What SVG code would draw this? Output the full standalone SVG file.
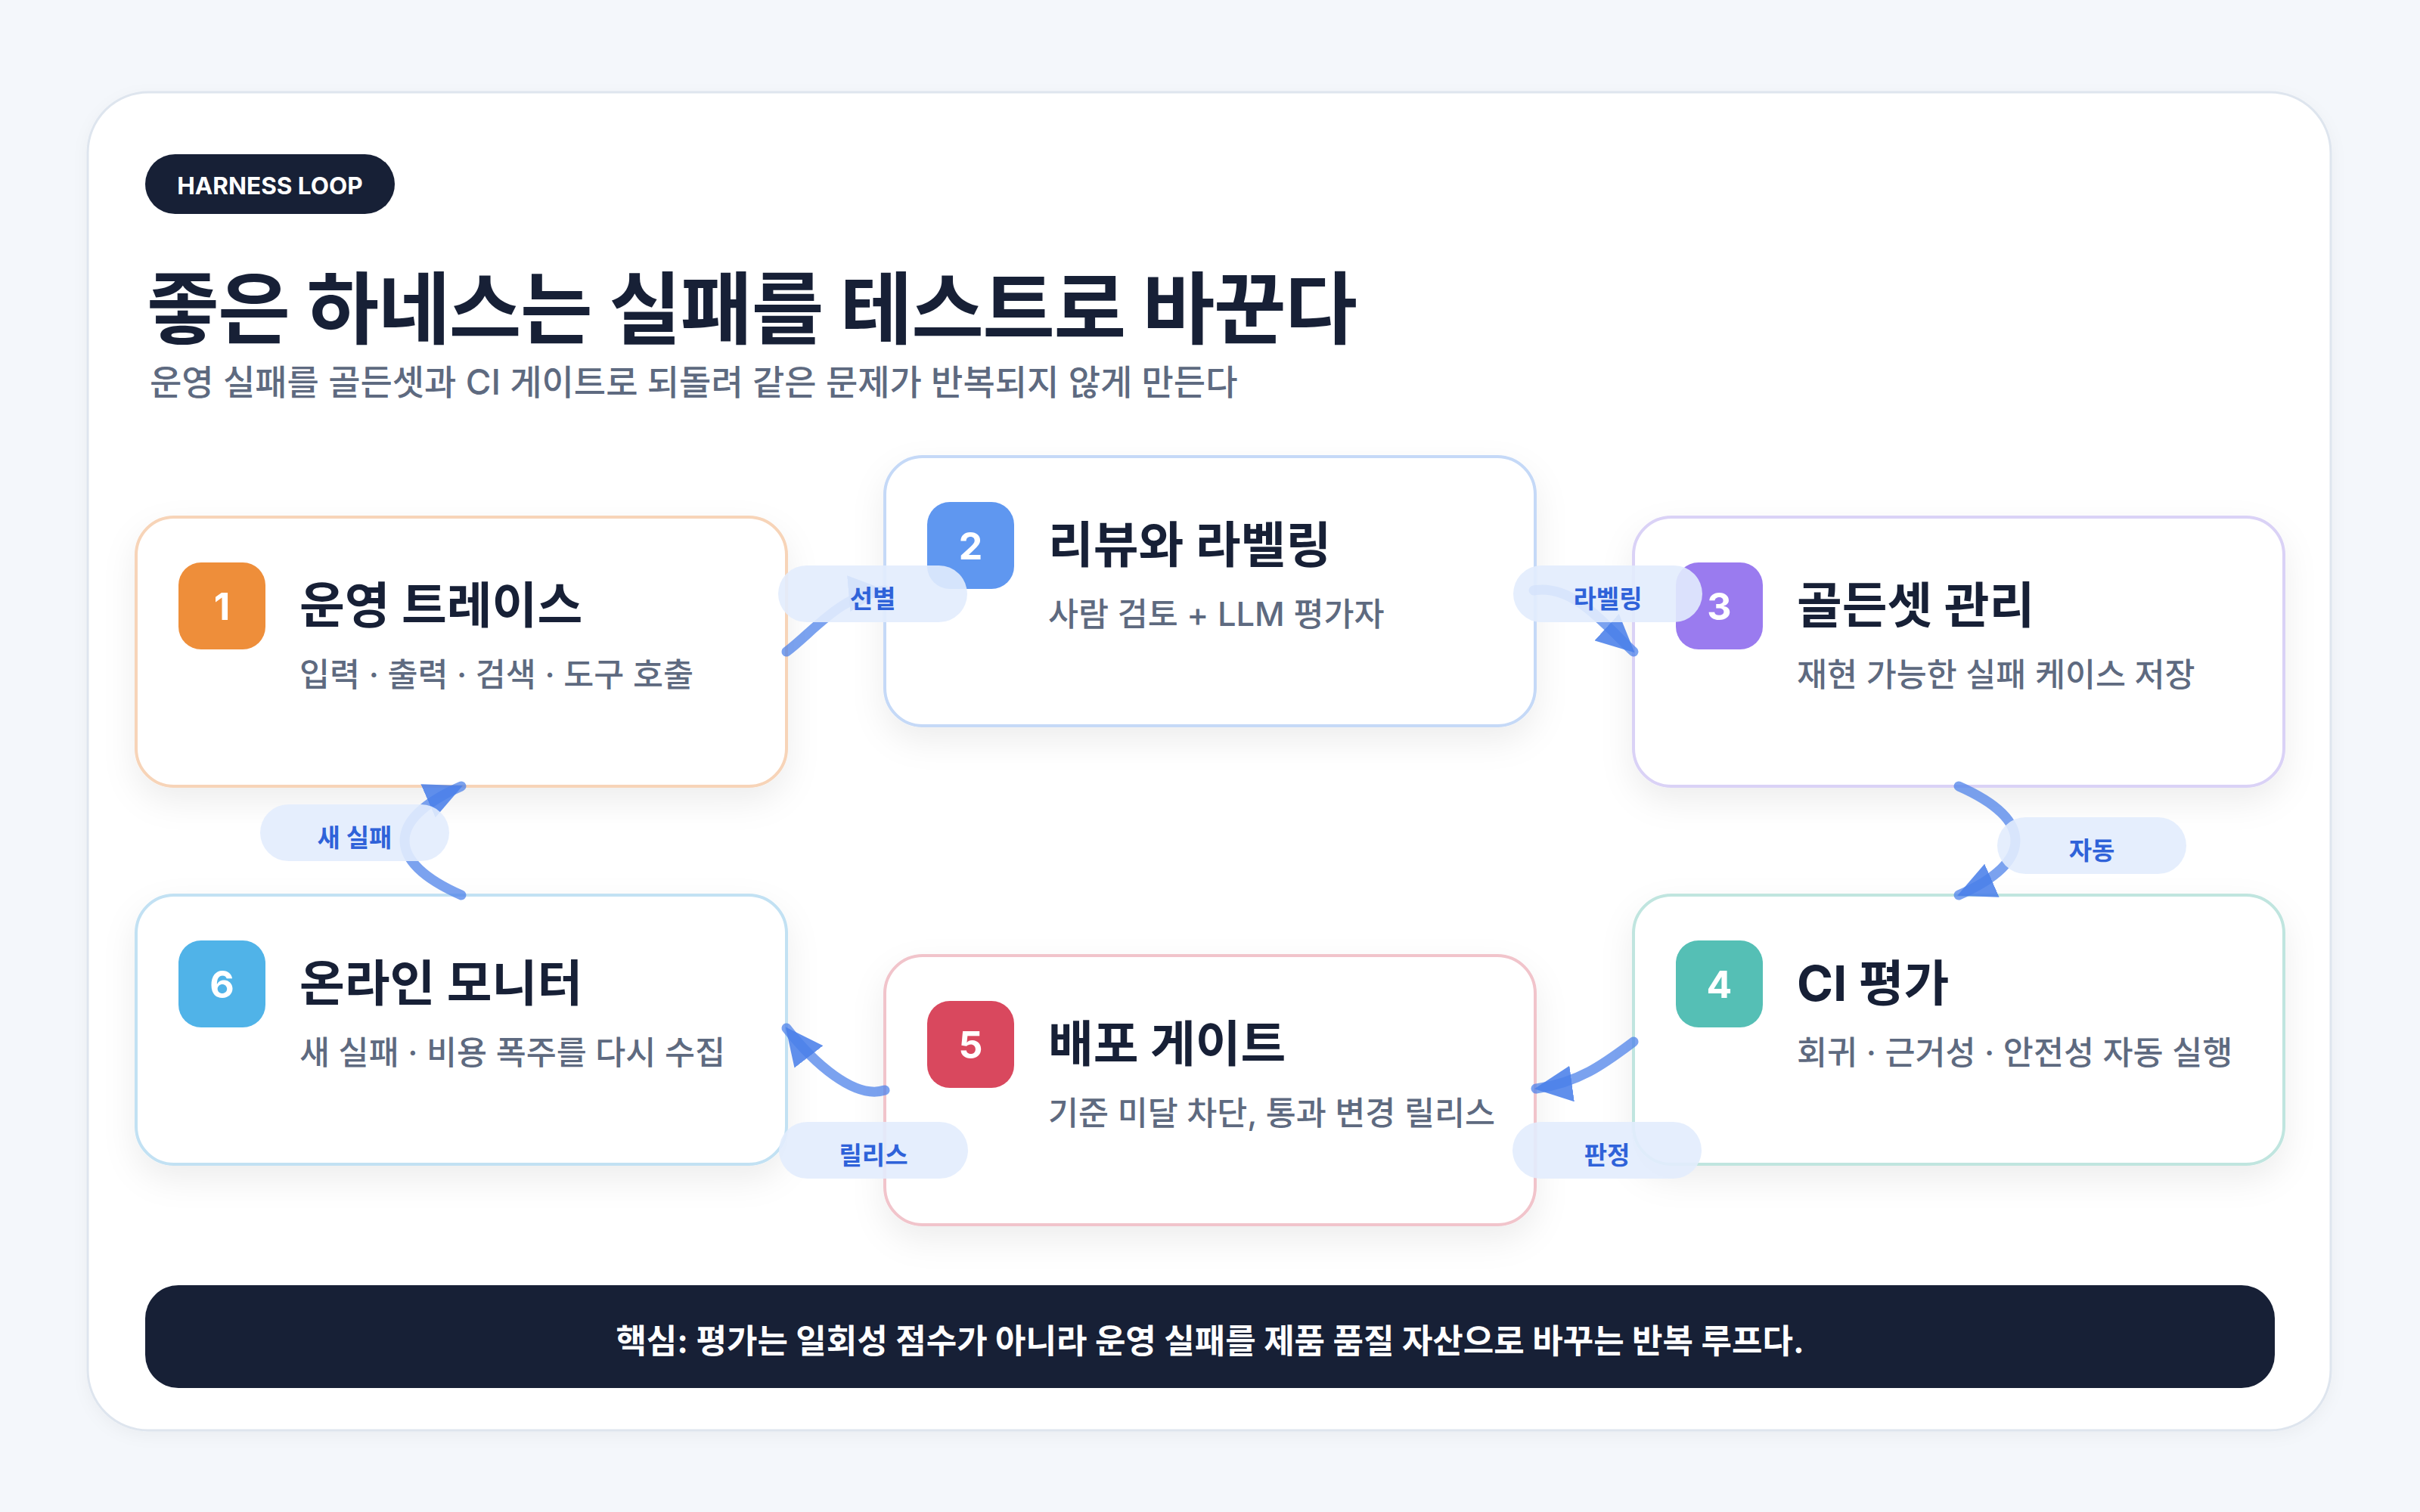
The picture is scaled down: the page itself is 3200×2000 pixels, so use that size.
<svg xmlns="http://www.w3.org/2000/svg" width="3200" height="2000" viewBox="0 0 3200 2000">
<defs>
<style>
.f{font-family:Inter,'Noto Sans CJK KR',sans-serif}
.node{fill:#ffffff;stroke-width:4}
.ttl{font-size:65px;font-weight:700;fill:#172036}
.sub{font-size:43.5px;font-weight:500;fill:#5E6A80}
.num{font-size:50px;font-weight:700;fill:#ffffff;text-anchor:middle}
.pill{fill:#E2ECFD;fill-opacity:0.9}
.plbl{font-size:33px;font-weight:700;fill:#2F62D9;text-anchor:middle}
.edge{fill:none;stroke:#4F83EA;stroke-opacity:0.75;stroke-width:13;stroke-linecap:round;marker-end:url(#arr)}
</style>
<filter id="sh" x="-20%" y="-20%" width="140%" height="160%">
<feDropShadow dx="0" dy="18" stdDeviation="22" flood-color="#0F172A" flood-opacity="0.07"/>
</filter>
<filter id="csh" x="-5%" y="-5%" width="110%" height="110%">
<feDropShadow dx="0" dy="6" stdDeviation="10" flood-color="#0F172A" flood-opacity="0.04"/>
</filter>
<marker id="arr" markerUnits="userSpaceOnUse" markerWidth="50" markerHeight="48" viewBox="0 0 50 48" refX="48" refY="24" orient="auto">
<path d="M0,0 L50,24 L0,48 Z" fill="#4A7FE9" fill-opacity="0.88"/>
</marker>
</defs>
<rect x="0" y="0" width="3200" height="2000" fill="#F4F7FB"/>
<rect x="116" y="122" width="2966" height="1770" rx="80" fill="#ffffff" stroke="#DEE5EE" stroke-width="3" filter="url(#csh)"/>

<g id="header" class="f">
<rect x="192" y="204" width="330" height="79" rx="39.5" fill="#172036"/>
<text x="357" y="257" font-size="31.5" font-weight="700" fill="#ffffff" text-anchor="middle">HARNESS LOOP</text>
<text x="194" y="447" font-size="104" font-weight="700" fill="#172036" letter-spacing="-1.5">좋은 하네스는 실패를 테스트로 바꾼다</text>
<text x="198" y="522" font-size="46" font-weight="500" fill="#5E6A80">운영 실패를 골든셋과 CI 게이트로 되돌려 같은 문제가 반복되지 않게 만든다</text>
</g>

<g id="node1" class="f">
<rect class="node" x="180" y="684" width="860" height="356" rx="50" stroke="#F7D4B8" filter="url(#sh)"/>
<rect x="236" y="744" width="115" height="115" rx="30" fill="#EE8E3A"/>
<text class="num" x="293.5" y="819.5">1</text>
<text class="ttl" x="396" y="824">운영 트레이스</text>
<text class="sub" x="396" y="907.5">입력 · 출력 · 검색 · 도구 호출</text>
</g>

<g id="node2" class="f">
<rect class="node" x="1170" y="604" width="860" height="356" rx="50" stroke="#C5D9F7" filter="url(#sh)"/>
<rect x="1226" y="664" width="115" height="115" rx="30" fill="#5F97F0"/>
<text class="num" x="1283.5" y="739.5">2</text>
<text class="ttl" x="1386" y="744">리뷰와 라벨링</text>
<text class="sub" x="1386" y="827.5">사람 검토 + LLM 평가자</text>
</g>

<g id="node3" class="f">
<rect class="node" x="2160" y="684" width="860" height="356" rx="50" stroke="#DAD2F6" filter="url(#sh)"/>
<rect x="2216" y="744" width="115" height="115" rx="30" fill="#9A7BEF"/>
<text class="num" x="2273.5" y="819.5">3</text>
<text class="ttl" x="2376" y="824">골든셋 관리</text>
<text class="sub" x="2376" y="907.5">재현 가능한 실패 케이스 저장</text>
</g>

<g id="node4" class="f">
<rect class="node" x="2160" y="1184" width="860" height="356" rx="50" stroke="#C0E5DF" filter="url(#sh)"/>
<rect x="2216" y="1244" width="115" height="115" rx="30" fill="#55BFB5"/>
<text class="num" x="2273.5" y="1319.5">4</text>
<text class="ttl" x="2376" y="1324">CI 평가</text>
<text class="sub" x="2376" y="1407.5">회귀 · 근거성 · 안전성 자동 실행</text>
</g>

<g id="node5" class="f">
<rect class="node" x="1170" y="1264" width="860" height="356" rx="50" stroke="#F1C4CB" filter="url(#sh)"/>
<rect x="1226" y="1324" width="115" height="115" rx="30" fill="#D9485E"/>
<text class="num" x="1283.5" y="1399.5">5</text>
<text class="ttl" x="1386" y="1404">배포 게이트</text>
<text class="sub" x="1386" y="1487.5">기준 미달 차단, 통과 변경 릴리스</text>
</g>

<g id="node6" class="f">
<rect class="node" x="180" y="1184" width="860" height="356" rx="50" stroke="#C2E1F3" filter="url(#sh)"/>
<rect x="236" y="1244" width="115" height="115" rx="30" fill="#50B3E8"/>
<text class="num" x="293.5" y="1319.5">6</text>
<text class="ttl" x="396" y="1324">온라인 모니터</text>
<text class="sub" x="396" y="1407.5">새 실패 · 비용 폭주를 다시 수집</text>
</g>

<g id="connectors" class="f">
<path class="edge" d="M1040,862 C1075,836 1112,786 1170,781"/>
<path class="edge" d="M2028,781 C2082,772 2125,830 2160,862"/>
<path class="edge" d="M2590,1040 C2690,1084 2690,1140 2590,1184"/>
<path class="edge" d="M2160,1378 C2125,1404 2090,1432 2031,1440"/>
<path class="edge" d="M1170,1442 C1130,1455 1075,1405 1040,1360"/>
<path class="edge" d="M610,1184 C510,1140 510,1084 610,1040"/>
<rect class="pill" x="1029" y="748" width="250" height="75" rx="37.5"/>
<text class="plbl" x="1154" y="803.5">선별</text>
<rect class="pill" x="2001" y="748" width="250" height="75" rx="37.5"/>
<text class="plbl" x="2126" y="803.5">라벨링</text>
<rect class="pill" x="2641" y="1081" width="250" height="75" rx="37.5"/>
<text class="plbl" x="2766" y="1136.5">자동</text>
<rect class="pill" x="2000" y="1484" width="250" height="75" rx="37.5"/>
<text class="plbl" x="2125" y="1539.5">판정</text>
<rect class="pill" x="1030" y="1484" width="250" height="75" rx="37.5"/>
<text class="plbl" x="1155" y="1539.5">릴리스</text>
<rect class="pill" x="344" y="1064" width="250" height="75" rx="37.5"/>
<text class="plbl" x="469" y="1119.5">새 실패</text>
</g>

<g id="footer" class="f">
<rect x="192" y="1700" width="2816" height="136" rx="44" fill="#172036"/>
<text x="1600" y="1790" font-size="44" font-weight="700" fill="#ffffff" text-anchor="middle">핵심: 평가는 일회성 점수가 아니라 운영 실패를 제품 품질 자산으로 바꾸는 반복 루프다.</text>
</g>
</svg>
